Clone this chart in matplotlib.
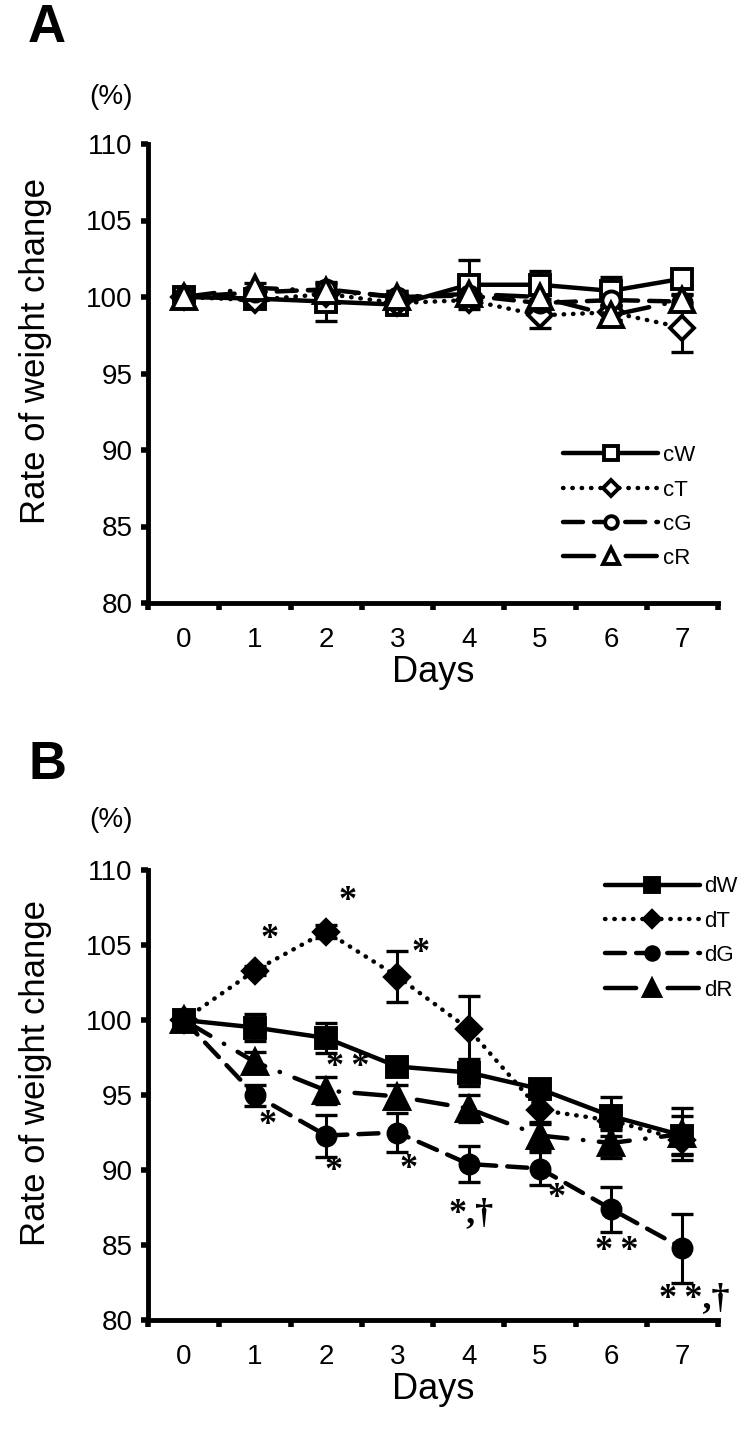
import numpy as np
import matplotlib
matplotlib.use("Agg")
import matplotlib.pyplot as plt

plt.rcParams['font.family'] = ['Liberation Sans', 'DejaVu Sans']

days = [0, 1, 2, 3, 4, 5, 6, 7]

# ── Panel A: control groups ────────────────────────────────────────────────
cW = [100.0, 99.9, 99.7, 99.5, 100.8, 100.8, 100.4, 101.2]
cW_err = [0.0, 0.3, 1.3, 0.4, 1.6, 0.9, 0.9, 0.4]
cT = [100.0, 99.8, 100.2, 99.6, 99.8, 98.8, 99.0, 98.0]
cT_err = [0.0, 0.3, 0.3, 0.3, 0.3, 0.8, 0.5, 1.6]
cG = [100.0, 100.3, 100.5, 100.0, 100.1, 99.6, 99.8, 99.7]
cG_err = [0.0, 0.3, 0.4, 0.4, 0.4, 0.5, 0.4, 0.4]
cR = [100.0, 100.6, 100.4, 100.0, 100.2, 100.0, 98.8, 99.8]
cR_err = [0.0, 0.3, 0.4, 0.4, 0.4, 0.5, 0.4, 0.4]

# ── Panel B: diabetic groups ───────────────────────────────────────────────
dW = [100.0, 99.5, 98.8, 96.9, 96.5, 95.4, 93.6, 92.3]
dW_err = [0.0, 0.9, 1.0, 0.4, 0.9, 0.5, 1.3, 1.3]
dT = [100.0, 103.3, 105.9, 102.9, 99.4, 94.0, 93.3, 92.0]
dT_err = [0.0, 0.3, 0.4, 1.7, 2.2, 0.9, 0.6, 0.9]
dG = [100.0, 95.0, 92.3, 92.5, 90.4, 90.1, 87.4, 84.8]
dG_err = [0.0, 0.7, 1.4, 1.3, 1.2, 1.1, 1.5, 2.3]
dR = [100.0, 97.2, 95.3, 94.9, 94.1, 92.3, 91.8, 92.4]
dR_err = [0.0, 0.7, 0.9, 0.8, 0.9, 0.9, 1.0, 1.7]

# significance marks (x, y, text)
sig_x = [1.2, 2.3, 3.32, 2.3, 1.18, 2.1, 3.16, 4.03, 5.24, 6.08, 7.16]
sig_y = [105.4, 107.9, 104.4, 96.8, 93.0, 89.9, 90.0, 87.1, 88.1, 84.6, 81.4]
sig_txt = ["*", "*", "*", "*\u2009*", "*", "*", "*", "*,†", "*", "*\u2009*", "*\u2009*,†"]

styles = [
    ("-", "s"),
    ((0, (0.1, 2.0)), "D"),
    ((0, (4.5, 2.5)), "o"),
    ((0, (7, 3.5, 0.1, 3.5)), "^"),
]
msizes = [14, 12, 13, 17]

fig = plt.figure(figsize=(7.56, 14.29), dpi=100)
axA = fig.add_axes([148 / 756, 1 - 603 / 1429, 570 / 756, 459 / 1429])
axB = fig.add_axes([148 / 756, 1 - 1320 / 1429, 570 / 756, 450 / 1429])


def draw(ax, series, errs, labels, filled):
    for (ls, mk), ms, y, e, lab in zip(styles, msizes, series, errs, labels):
        ax.errorbar(days, y, yerr=e, fmt="none", ecolor="black",
                    elinewidth=2.2, capsize=8, capthick=2.4, zorder=2)
        ax.plot(days, y, linestyle=ls, color="black", lw=3.2,
                dash_capstyle="round", solid_capstyle="round",
                marker=mk, ms=ms, mew=2.8, mec="black",
                mfc="black" if filled else "white", label=lab, zorder=3)


def style_axis(ax):
    ax.set_xlim(-0.5, 7.5)
    ax.set_ylim(80, 110)
    ax.set_yticks([80, 85, 90, 95, 100, 105, 110])
    ax.set_xticks(days)
    ax.set_xticks(np.arange(-0.5, 8, 1), minor=True)
    ax.tick_params(axis="x", which="major", length=0, pad=17, labelsize=20)
    ax.tick_params(axis="x", which="minor", length=5, width=4, direction="out")
    ax.tick_params(axis="y", length=5, width=4, direction="out", pad=6, labelsize=20)
    for s in ("top", "right"):
        ax.spines[s].set_visible(False)
    for s in ("left", "bottom"):
        ax.spines[s].set_linewidth(3.5)
    ax.set_xlabel("Days", fontsize=26, labelpad=2)
    ax.set_ylabel("Rate of weight change", fontsize=25)
    ax.yaxis.set_label_coords(-0.168, 0.55)


draw(axA, [cW, cT, cG, cR], [cW_err, cT_err, cG_err, cR_err],
     ["cW", "cT", "cG", "cR"], filled=False)
style_axis(axA)
axA.legend(loc="lower right", bbox_to_anchor=(0.995, 0.03), frameon=False,
           fontsize=16, handlelength=4.3, markerscale=0.7, labelspacing=0.6,
           handletextpad=0.2)

draw(axB, [dW, dT, dG, dR], [dW_err, dT_err, dG_err, dR_err],
     ["dW", "dT", "dG", "dR"], filled=True)
style_axis(axB)
axB.legend(loc="upper right", bbox_to_anchor=(1.07, 1.03), frameon=False,
           fontsize=16, handlelength=4.3, markerscale=0.7, labelspacing=0.6,
           handletextpad=0.2)

for x, y, t in zip(sig_x, sig_y, sig_txt):
    axB.text(x, y, t, ha="center", va="center", fontsize=26, fontweight="bold",
             family=["Liberation Serif", "DejaVu Serif"])

fig.text(28 / 756, 1 - 28 / 1429, "A", fontsize=38, fontweight="bold", va="center", ha="left")
fig.text(28 / 756, 1 - 765 / 1429, "B", fontsize=38, fontweight="bold", va="center", ha="left")
fig.text(111 / 756, 1 - 97 / 1429, "(%)", fontsize=20, va="center", ha="center")
fig.text(111 / 756, 1 - 820 / 1429, "(%)", fontsize=20, va="center", ha="center")

fig.savefig("out.png", dpi=100)
